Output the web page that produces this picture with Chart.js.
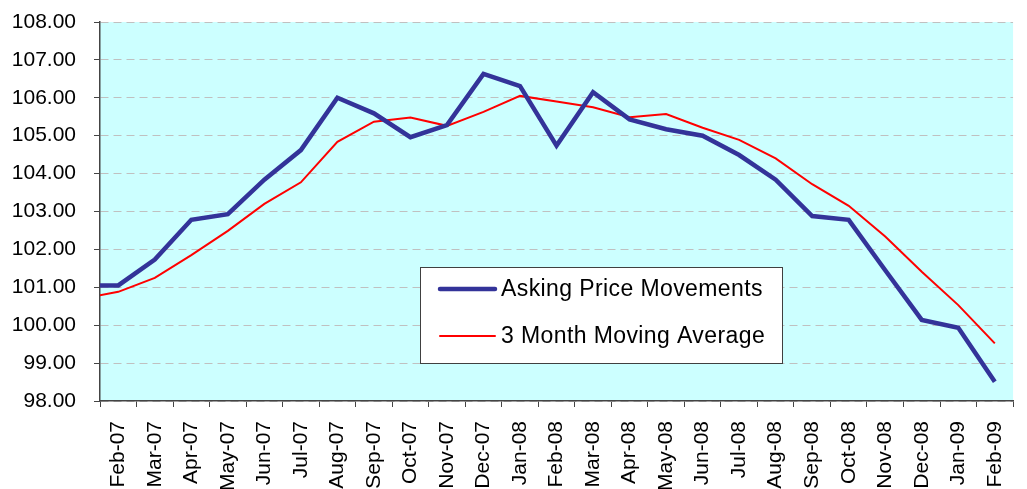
<!DOCTYPE html>
<html>
<head>
<meta charset="utf-8">
<script src="https://cdn.jsdelivr.net/npm/chart.js@4/dist/chart.umd.min.js"></script>
<style>
  html, body { margin: 0; padding: 0; background: #fff; overflow: hidden; }
  #wrap { width: 1027px; height: 489px; overflow: hidden; }
</style>
</head>
<body>
<div id="wrap"><canvas id="chart" width="1034" height="489"></canvas></div>
<script>
// Jan-07 is only there so the lines run in from the left edge (clipped), like the original
const months = [
  "Jan-07", "Feb-07", "Mar-07", "Apr-07", "May-07", "Jun-07", "Jul-07", "Aug-07",
  "Sep-07", "Oct-07", "Nov-07", "Dec-07", "Jan-08", "Feb-08", "Mar-08",
  "Apr-08", "May-08", "Jun-08", "Jul-08", "Aug-08", "Sep-08", "Oct-08",
  "Nov-08", "Dec-08", "Jan-09", "Feb-09"
];

const askingPrice = [
  101.05, 101.05, 101.73, 102.78, 102.93, 103.84, 104.62, 106.0,
  105.59, 104.96, 105.28, 106.63, 106.31, 104.74, 106.15,
  105.43, 105.17, 105.0, 104.49, 103.84, 102.88, 102.78,
  101.45, 100.14, 99.93, 98.51
];

const movingAvg = [
  100.70, 100.88, 101.25, 101.85, 102.49, 103.2, 103.77, 104.84,
  105.37, 105.48, 105.26, 105.63, 106.05, 105.9, 105.75,
  105.49, 105.57, 105.21, 104.89, 104.4, 103.72, 103.15,
  102.34, 101.41, 100.53, 99.52
];

const yTicks = { min: 98, max: 108, step: 1 };

const FONT = "'Liberation Sans', Arial, sans-serif";

// cyan plot background
const plotBg = {
  id: "plotBg",
  beforeDraw(chart) {
    const { ctx, chartArea: a } = chart;
    ctx.save();
    ctx.fillStyle = "#CCFFFF";
    ctx.fillRect(a.left, a.top, a.right - a.left, a.bottom - a.top);
    ctx.restore();
  }
};

// boxed legend sitting inside the plot
const boxLegend = {
  id: "boxLegend",
  afterDraw(chart) {
    const { ctx, chartArea: a } = chart;
    const x = a.left + 320, y = a.top + 245, w = 362, h = 96;
    ctx.save();
    ctx.fillStyle = "#fff";
    ctx.fillRect(x, y, w, h);
    ctx.strokeStyle = "#404040";
    ctx.lineWidth = 1;
    ctx.strokeRect(x + 0.5, y + 0.5, w, h);
    ctx.font = "23px " + FONT;
    ctx.letterSpacing = "0.4px";
    ctx.textBaseline = "middle";
    chart.data.datasets.forEach((ds, i) => {
      const ly = y + 22 + i * 47;
      ctx.beginPath();
      ctx.strokeStyle = ds.borderColor;
      ctx.lineWidth = ds.borderWidth;
      ctx.lineCap = "round";
      ctx.moveTo(x + 20, ly);
      ctx.lineTo(x + 75, ly);
      ctx.stroke();
      ctx.fillStyle = "#000";
      ctx.fillText(ds.label, x + 81, ly + 1);
    });
    ctx.restore();
  }
};

new Chart(document.getElementById("chart"), {
  type: "line",
  data: {
    labels: months,
    datasets: [
      {
        label: "Asking Price Movements",
        data: askingPrice,
        borderColor: "#333399",
        borderWidth: 4.5,
        pointRadius: 0,
        tension: 0
      },
      {
        label: "3 Month Moving Average",
        data: movingAvg,
        borderColor: "#FF0000",
        borderWidth: 2,
        pointRadius: 0,
        tension: 0
      }
    ]
  },
  options: {
    responsive: false,
    animation: false,
    layout: { padding: { top: 22, right: 0, left: 0, bottom: 0 } },
    plugins: {
      legend: { display: false },
      tooltip: { enabled: false }
    },
    scales: {
      x: {
        type: "category",
        min: "Feb-07",
        max: "Feb-09",
        offset: true,
        grid: {
          offset: true,
          drawOnChartArea: false,
          drawTicks: true,
          tickLength: 6,
          tickColor: "#444"
        },
        border: { display: true, color: "#444", width: 1.5 },
        ticks: {
          color: "#000",
          font: { family: FONT, size: 21 },
          minRotation: 90,
          maxRotation: 90,
          autoSkip: false,
          padding: 14
        },
        afterFit(scale) { scale.height = 88; }
      },
      y: {
        min: yTicks.min,
        max: yTicks.max,
        grid: {
          color: "#C0C0C0",
          lineWidth: 1,
          drawTicks: true,
          tickLength: 6,
          tickColor: "#444",
          tickBorderDash: [],
          borderDash: [8, 5]
        },
        border: { display: true, color: "#444", width: 1.5, dash: [8, 5] },
        ticks: {
          stepSize: yTicks.step,
          color: "#000",
          font: { family: FONT, size: 21 },
          padding: 18,
          callback: v => v.toFixed(2)
        },
        afterFit(scale) {
          scale.width = 100;
          scale.paddingTop = 0;
          scale.paddingBottom = 0;
        }
      }
    }
  },
  plugins: [plotBg, boxLegend]
});
</script>
</body>
</html>
